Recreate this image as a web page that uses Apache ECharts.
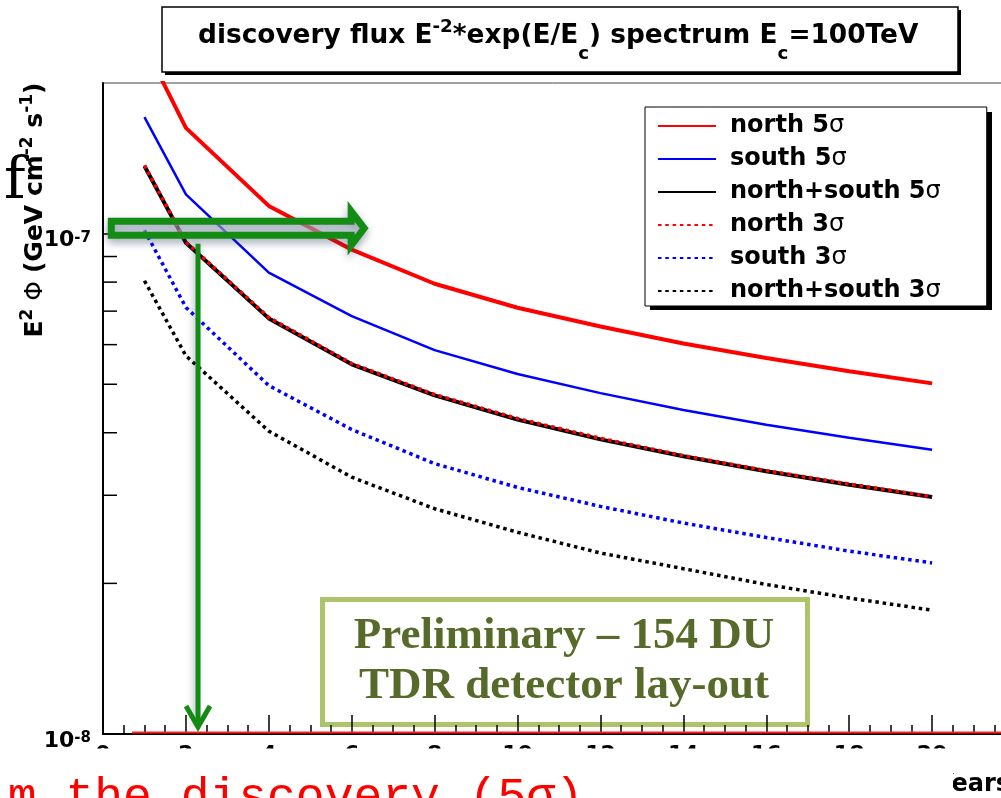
<!DOCTYPE html>
<html><head><meta charset="utf-8">
<script src="https://cdn.jsdelivr.net/npm/echarts@6/dist/echarts.min.js"></script>
<style>html,body{margin:0;padding:0;background:#fff;overflow:hidden}#c{width:1001px;height:798px}</style>
</head><body><div id="c"></div>
<script>
// ---- data ----
const years = [1, 2, 4, 6, 8, 10, 12, 14, 16, 18, 20];
const north5 = [2.38e-7, 1.627e-7, 1.136e-7, 9.29e-8, 7.94e-8, 7.11e-8, 6.52e-8, 6.03e-8, 5.64e-8, 5.31e-8, 5.02e-8];
const south5 = [1.709e-7, 1.198e-7, 8.36e-8, 6.84e-8, 5.85e-8, 5.24e-8, 4.80e-8, 4.44e-8, 4.15e-8, 3.91e-8, 3.70e-8];
const both5  = [1.365e-7, 9.59e-8, 6.77e-8, 5.48e-8, 4.75e-8, 4.25e-8, 3.88e-8, 3.59e-8, 3.35e-8, 3.15e-8, 2.975e-8];
const north3 = [1.37e-7, 9.62e-8, 6.80e-8, 5.50e-8, 4.77e-8, 4.27e-8, 3.90e-8, 3.60e-8, 3.36e-8, 3.16e-8, 2.98e-8];
const south3 = [1.016e-7, 7.12e-8, 4.97e-8, 4.06e-8, 3.47e-8, 3.11e-8, 2.85e-8, 2.64e-8, 2.47e-8, 2.32e-8, 2.197e-8];
const both3  = [8.05e-8, 5.70e-8, 4.03e-8, 3.26e-8, 2.82e-8, 2.53e-8, 2.30e-8, 2.14e-8, 1.99e-8, 1.87e-8, 1.768e-8];
const seriesNames = ['north 5σ', 'south 5σ', 'north+south 5σ', 'north 3σ', 'south 3σ', 'north+south 3σ'];
const yMinorTickValues = [2e-8, 3e-8, 4e-8, 5e-8, 6e-8, 7e-8, 8e-8, 9e-8];
// annotation arrows (data coordinates)
const levelArrow = [0.2, 1.025e-7, 6.3, 1.025e-7];
const yearArrow = [2.292, 9.54e-8, 2.292, 1.033e-8];
const baseLine = [0.7, 1e-8, 22, 1e-8];

const FONT = 'DejaVu Sans';
const GREEN = '#148c14';
const pair = (xs, ys) => xs.map((x, i) => [x, ys[i]]);

const chart = echarts.init(document.getElementById('c'), null, {renderer: 'canvas'});

function lineSeries(name, data, color, width, dotted) {
  return {
    type: 'line', name, data: pair(years, data), symbol: 'none', showSymbol: false,
    lineStyle: {color, width, type: dotted ? [3.5, 3.8] : 'solid'},
    itemStyle: {color}, emphasis: {disabled: true}, silent: true, animation: false, z: 2
  };
}

const option = {
  animation: false,
  backgroundColor: '#fff',
  title: {
    text: '{m|discovery flux E}{sup|-2}{m|*exp(E/E}{sub|c}{m|) spectrum E}{sub|c}{m|=100TeV}',
    left: 162, top: 7,
    padding: [2, 40, 9, 36],
    backgroundColor: '#fff', borderColor: '#000', borderWidth: 1.5,
    textStyle: {
      rich: {
        m: {fontFamily: FONT, fontWeight: 'bold', fontSize: 26.4, lineHeight: 54, color: '#000'},
        sup: {fontFamily: FONT, fontWeight: 'bold', fontSize: 18.3, lineHeight: 18, color: '#000', verticalAlign: 'top', padding: [9, 0, 0, 0]},
        sub: {fontFamily: FONT, fontWeight: 'bold', fontSize: 18.3, lineHeight: 18, color: '#000', verticalAlign: 'bottom'}
      }
    }
  },
  legend: {
    data: seriesNames, orient: 'vertical', left: 645, top: 107,
    padding: [6, 46, 2, 12], itemGap: 7, itemWidth: 58, itemHeight: 14,
    backgroundColor: '#fff', borderColor: '#000', borderWidth: 1,
    selectedMode: false, itemStyle: {opacity: 0},
    formatter: n => n.replace('σ', '{s|σ}'),
    textStyle: {
      fontFamily: FONT, fontWeight: 'bold', fontSize: 24, color: '#000', lineHeight: 26, padding: [0, 0, 0, 9],
      rich: {s: {fontFamily: FONT, fontWeight: 'normal', fontSize: 24, lineHeight: 26, color: '#000'}}
    }
  },
  grid: {left: 103, top: 83, right: -14, bottom: 64, show: true, borderColor: '#444', borderWidth: 1, backgroundColor: '#fff', containLabel: false, outerBoundsMode: 'none'},
  xAxis: {
    type: 'value', min: 0, max: 22, interval: 2,
    name: 'Years', nameLocation: 'end', nameGap: -5,
    nameTextStyle: {fontFamily: FONT, fontWeight: 'bold', fontSize: 24, color: '#000', align: 'right', verticalAlign: 'top', padding: [39, 0, 0, 0]},
    axisLine: {show: true, lineStyle: {color: '#000', width: 2}},
    axisTick: {show: true, inside: true, length: 19, lineStyle: {color: '#000', width: 1.5}},
    minorTick: {show: true, splitNumber: 4, length: 9, lineStyle: {color: '#000', width: 1.5}},
    splitLine: {show: false}, minorSplitLine: {show: false},
    axisLabel: {fontFamily: FONT, fontWeight: 'bold', fontSize: 22, color: '#000', margin: 10}
  },
  yAxis: {
    type: 'log', logBase: 10, min: 1e-8, max: 2e-7,
    name: '{b|E}{sup|2}{p| Φ }{b|(GeV cm}{sup|-2}{b| s}{sup|-1}{b|)}',
    nameLocation: 'end', nameRotate: 90, nameGap: -127, nameMoveOverlap: false,
    nameTextStyle: {
      align: 'center', verticalAlign: 'bottom', padding: [0, 0, 50, 0],
      rich: {
        b: {fontFamily: FONT, fontWeight: 'bold', fontSize: 25, lineHeight: 36, color: '#000'},
        p: {fontFamily: FONT, fontWeight: 'normal', fontSize: 25, lineHeight: 36, color: '#000'},
        sup: {fontFamily: FONT, fontWeight: 'bold', fontSize: 17, lineHeight: 17, color: '#000', verticalAlign: 'top', padding: [2, 0, 0, 0]}
      }
    },
    axisLine: {show: true, lineStyle: {color: '#000', width: 2}},
    axisTick: {show: true, inside: true, length: 14, lineStyle: {color: '#000', width: 1.5}},
    splitLine: {show: false},
    axisLabel: {
      margin: 12, showMaxLabel: false, showMinLabel: true,
      formatter: v => '{b|10}{sup|' + Math.round(Math.log10(v)) + '}',
      rich: {
        b: {fontFamily: FONT, fontWeight: 'bold', fontSize: 22, lineHeight: 22, padding: [14, 0, 0, 0], color: '#000'},
        sup: {fontFamily: FONT, fontWeight: 'bold', fontSize: 15, lineHeight: 15, padding: [8, 0, 0, 0], verticalAlign: 'top', color: '#000'}
      }
    }
  },
  series: [
    lineSeries(seriesNames[0], north5, '#ff0000', 4, false),
    lineSeries(seriesNames[1], south5, '#0000ff', 2.5, false),
    lineSeries(seriesNames[2], both5, '#000000', 4, false),
    lineSeries(seriesNames[3], north3, '#ff0000', 3.5, true),
    lineSeries(seriesNames[4], south3, '#0000ff', 3.5, true),
    lineSeries(seriesNames[5], both3, '#000000', 3.5, true),
    {
      type: 'custom', name: 'yMinorTicks', silent: true, z: 3, clip: false,
      data: yMinorTickValues.map(v => [0, v]), encode: {x: 0, y: 1},
      renderItem: (params, api) => {
        const p = api.coord([api.value(0), api.value(1)]);
        return {type: 'line', shape: {x1: p[0], y1: p[1], x2: p[0] + 14, y2: p[1]}, style: {stroke: '#000', lineWidth: 1.5}};
      }
    },
    {
      type: 'custom', name: 'annotations', silent: true, z: 10, clip: false,
      data: [levelArrow.concat([0]), yearArrow.concat([1]), baseLine.concat([2])],
      encode: {x: [0, 2], y: [1, 3]},
      renderItem: (params, api) => {
        const a = api.coord([api.value(0), api.value(1)]);
        const b = api.coord([api.value(2), api.value(3)]);
        const kind = api.value(4);
        if (kind === 0) {
          const cy = a[1], x0 = a[0], x1 = b[0], bh = 7, hh = 17, hl = 13;
          return {
            type: 'polygon',
            shape: {points: [[x0, cy - bh], [x1 - hl, cy - bh], [x1 - hl, cy - hh], [x1, cy], [x1 - hl, cy + hh], [x1 - hl, cy + bh], [x0, cy + bh]]},
            style: {fill: 'rgba(215,225,238,0.5)', stroke: GREEN, lineWidth: 7, lineJoin: 'miter',
              shadowBlur: 8, shadowColor: 'rgba(40,60,90,0.4)', shadowOffsetY: 4}
          };
        }
        if (kind === 1) {
          return {
            type: 'group', children: [
              {type: 'line', shape: {x1: a[0], y1: a[1], x2: b[0], y2: b[1]},
                style: {stroke: GREEN, lineWidth: 5, shadowBlur: 6, shadowColor: 'rgba(40,60,90,0.35)', shadowOffsetX: -2}},
              {type: 'polyline', shape: {points: [[b[0] - 12, b[1] - 21], [b[0], b[1]], [b[0] + 12, b[1] - 21]]},
                style: {stroke: GREEN, lineWidth: 5, fill: null, lineJoin: 'miter'}}
            ]
          };
        }
        return {type: 'line', shape: {x1: a[0], y1: a[1] - 1.5, x2: b[0], y2: b[1] - 1.5}, style: {stroke: '#ff2020', lineWidth: 2}};
      }
    }
  ],
  graphic: [
    // drop shadows of the title and legend boxes
    {type: 'rect', z: 5, shape: {x: 165, y: 10, width: 796, height: 65}, style: {fill: '#000'}},
    {type: 'rect', z: 3, shape: {x: 650, y: 112, width: 342, height: 198}, style: {fill: '#000'}},
    {type: 'group', z: 50, children: [
      {type: 'rect', shape: {x: 322.5, y: 599.5, width: 485, height: 125}, style: {fill: '#fff', stroke: '#aec46a', lineWidth: 5}},
      {type: 'text', style: {text: 'Preliminary – 154 DU', x: 564, y: 636, align: 'center', verticalAlign: 'middle', fontFamily: 'Liberation Serif', fontWeight: 'bold', fontSize: 45, fill: '#566b2a'}},
      {type: 'text', style: {text: 'TDR detector lay-out', x: 564, y: 686, align: 'center', verticalAlign: 'middle', fontFamily: 'Liberation Serif', fontWeight: 'bold', fontSize: 45, fill: '#566b2a'}}
    ]},
    {type: 'rect', z: 60, shape: {x: 0, y: 748.5, width: 953, height: 60}, style: {fill: '#fff'}},
    {type: 'text', z: 61, style: {text: 'im the discovery (5σ)', x: -21, y: 798, verticalAlign: 'middle', fontFamily: 'Liberation Mono', fontSize: 48, fill: '#ff0000'}},
    {type: 'text', z: 61, style: {text: 'f', x: 4, y: 183, verticalAlign: 'middle', fontFamily: 'DejaVu Serif', fontSize: 58, fill: '#000'}}
  ]
};
chart.setOption(option);
</script></body></html>
